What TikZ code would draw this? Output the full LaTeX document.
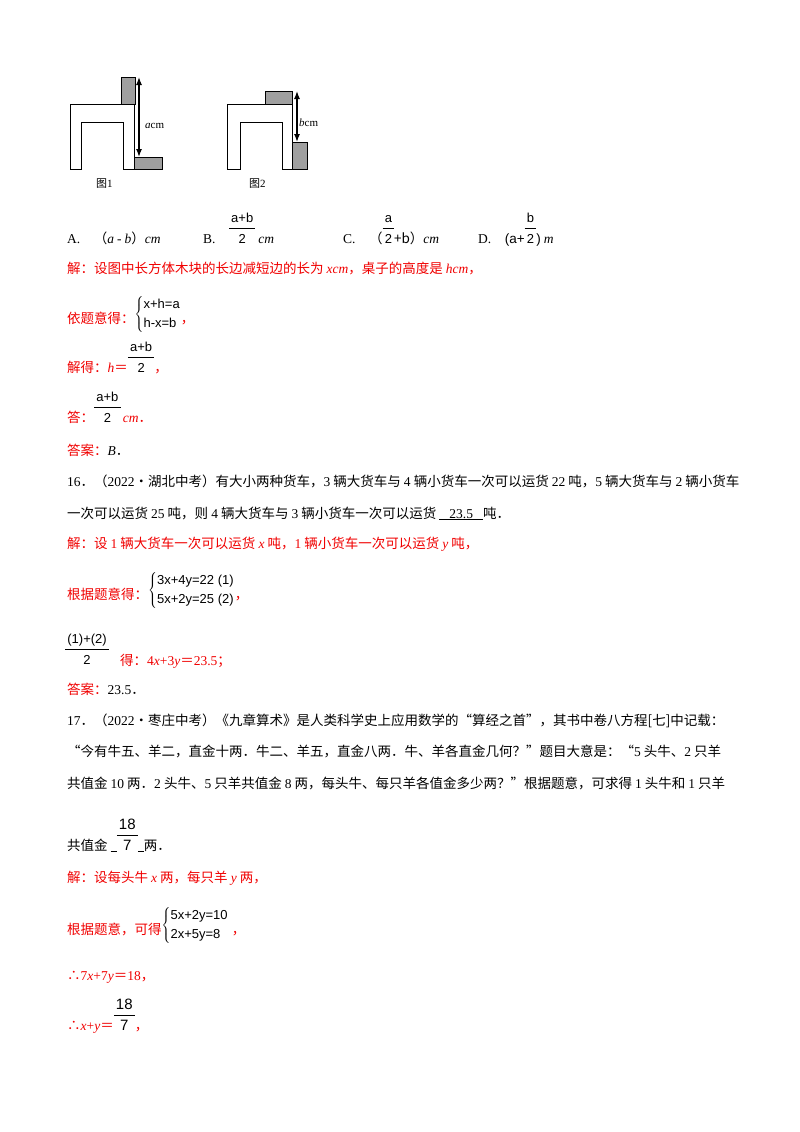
\documentclass[tikz,border=0pt]{standalone}
\usepackage{fontspec}
\usetikzlibrary{arrows.meta}
\setmainfont{Noto Sans CJK SC}
\newfontfamily\tmf{Liberation Serif}
\newfontfamily\arf{Liberation Sans}
\newcommand\tm[1]{{\tmf #1}}
\newcommand\ti[1]{{\tmf\itshape #1}}
\newcommand\fr[2]{{\arf\fontsize{13}{14}\selectfont\begin{tabular}[b]{@{\,}c@{\,}}#1\\[1pt]\hline\rule{0pt}{15pt}#2\end{tabular}}}
\newcommand\sys[2]{{\arf\fontsize{13}{14}\selectfont\renewcommand\arraystretch{1.4}$\left\{\begin{array}{@{}l@{}}\mbox{#1}\\\mbox{#2}\end{array}\right.$}}
\definecolor{ans}{RGB}{240,0,0}
\begin{document}
\begin{tikzpicture}[x=1pt,y=-1pt,
  tx/.style={anchor=base west,inner sep=0pt,font=\fontsize{13.5}{16}\selectfont},
  rd/.style={tx,text=ans},
  blk/.style={draw=black,fill=gray!75,line width=0.6pt},
  tbl/.style={draw=black,line width=0.8pt},
  dim/.style={line width=1.3pt,{Latex[length=8pt,width=6pt]}-{Latex[length=8pt,width=6pt]}}]
\useasboundingbox (0,0) rectangle (800,1132);
% figure 1
\draw[tbl] (70,169) -- (70,104) -- (134,104) -- (134,169) -- (123,169) -- (123,122) -- (81,122) -- (81,169) -- cycle;
\draw[blk] (121,77) rectangle (135,104);
\draw[blk] (134,157) rectangle (162,169);
\coordinate (a1) at (139,77); \coordinate (a2) at (139,157);
\draw[dim] (a1) -- (a2);
\node[tx,font=\tmf\fontsize{11}{12}\selectfont] (la) at (145,128) {\textit{a}cm};
\node[tx,font=\fontsize{11}{12}\selectfont] (f1) at (96,187) {图\tm{1}};
% figure 2
\draw[tbl] (227,169) -- (227,104) -- (292,104) -- (292,169) -- (282,169) -- (282,122) -- (240,122) -- (240,169) -- cycle;
\draw[blk] (265,91) rectangle (292,104);
\draw[blk] (292,142) rectangle (307,169);
\coordinate (b1) at (297,91); \coordinate (b2) at (297,142);
\draw[dim] (b1) -- (b2);
\node[tx,font=\tmf\fontsize{11}{12}\selectfont] (lb) at (299,126) {\textit{b}cm};
\node[tx,font=\fontsize{11}{12}\selectfont] (f2) at (249,187) {图\tm{2}};
% options
\node[tx] (oa) at (67,243) {\tm{A.}\quad （\ti{a} \tm{-} \ti{b}）\ti{cm}};
\node[tx] (ob) at (203,243) {\tm{B.}\quad\fr{a+b}{2} \ti{cm}};
\node[tx] (oc) at (343,243) {\tm{C.}\quad（\fr{a}{2}+b）\ti{cm}};
\node[tx] (od) at (478,243) {\tm{D.}\quad{\arf(a+\fr{b}{2})} \ti{m}};
% solution 15
\node[rd] (s1) at (67,273) {解：设图中长方体木块的长边减短边的长为 \ti{xcm}，桌子的高度是 \ti{hcm}，};
\node[rd] (s2) at (67,323) {依题意得：\raisebox{6pt}{\color{black}\sys{x+h=a}{h-x=b}}，};
\node[rd] (s3) at (67,372) {解得：\ti{h}＝\color{black}\fr{a+b}{2}\color{ans}，};
\node[rd] (s4) at (67,422) {答：\color{black}\fr{a+b}{2}\,\color{ans}\ti{cm}．};
\node[tx] (s5) at (67,455) {\textcolor{ans}{答案：}\tm{\textit{B}}．};
% problem 16
\node[tx] (p16a) at (67,486) {\tm{16}．（\tm{2022}•湖北中考）有大小两种货车，\tm{3} 辆大货车与 \tm{4} 辆小货车一次可以运货 \tm{22} 吨，\tm{5} 辆大货车与 \tm{2} 辆小货车};
\node[tx] (p16b) at (67,518) {一次可以运货 \tm{25} 吨，则 \tm{4} 辆大货车与 \tm{3} 辆小货车一次可以运货 \tm{\underline{\ \ \ 23.5\ \ \ }}吨．};
\node[rd] (r1) at (67,548) {解：设 \tm{1} 辆大货车一次可以运货 \ti{x} 吨，\tm{1} 辆小货车一次可以运货 \ti{y} 吨，};
\node[rd] (r2) at (67,599) {根据题意得：\raisebox{6pt}{\color{black}\sys{3x+4y=22 (1)}{5x+2y=25 (2)}}，};
\node[tx] (r3) at (65,664) {\fr{(1)+(2)}{2}};
\node[rd] (r4) at (120,665) {得：\tm{4\textit{x}+3\textit{y}}＝\tm{23.5}；};
\node[tx] (r5) at (67,694) {\textcolor{ans}{答案：}\tm{23.5}．};
% problem 17
\node[tx] (p17a) at (67,725) {\tm{17}．（\tm{2022}•枣庄中考）《九章算术》是人类科学史上应用数学的“算经之首”，其书中卷八方程[七]中记载：};
\node[tx] (p17b) at (67,756) {“今有牛五、羊二，直金十两．牛二、羊五，直金八两．牛、羊各直金几何？”题目大意是：“\tm{5} 头牛、\tm{2} 只羊};
\node[tx] (p17c) at (67,788) {共值金 \tm{10} 两．\tm{2} 头牛、\tm{5} 只羊共值金 \tm{8} 两，每头牛、每只羊各值金多少两？”根据题意，可求得 \tm{1} 头牛和 \tm{1} 只羊};
\node[tx] (p17d) at (67,850) {共值金 \underline{\ \ }\fr{\fontsize{15}{16}\selectfont 18}{\fontsize{15}{16}\selectfont 7}\underline{\ \ }两．};
\node[rd] (q1) at (67,882) {解：设每头牛 \ti{x} 两，每只羊 \ti{y} 两，};
\node[rd] (q2) at (67,934) {根据题意，可得\raisebox{6pt}{\color{black}\sys{5x+2y=10}{2x+5y=8}}\ ，};
\node[rd] (q3) at (67,980) {∴\tm{7\textit{x}+7\textit{y}}＝\tm{18}，};
\node[rd] (q4) at (67,1030) {∴\tm{\textit{x}+\textit{y}}＝\color{black}\fr{\fontsize{15}{16}\selectfont 18}{\fontsize{15}{16}\selectfont 7}\color{ans}，};
\end{tikzpicture}
\end{document}
